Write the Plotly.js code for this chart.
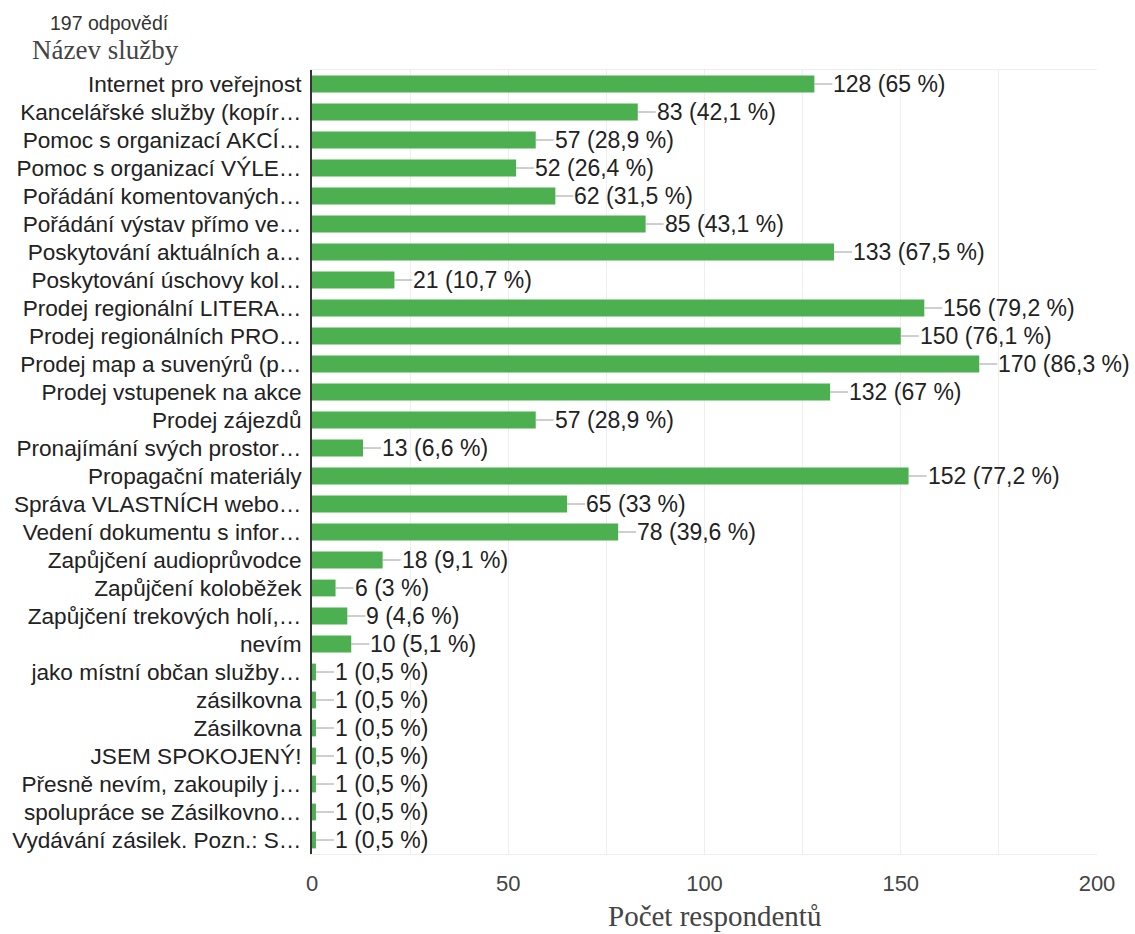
<!DOCTYPE html>
<html>
<head>
<meta charset="utf-8">
<script src="https://cdn.plot.ly/plotly-3.0.1.min.js"></script>
<style>html,body{margin:0;padding:0;background:#fff;}#chart{width:1135px;height:934px;}</style>
</head>
<body>
<div id="chart"></div>
<script>
const categories = [
  "Internet pro veřejnost",
  "Kancelářské služby (kopír…",
  "Pomoc s organizací AKCÍ…",
  "Pomoc s organizací VÝLE…",
  "Pořádání komentovaných…",
  "Pořádání výstav přímo ve…",
  "Poskytování aktuálních a…",
  "Poskytování úschovy kol…",
  "Prodej regionální LITERA…",
  "Prodej regionálních PRO…",
  "Prodej map a suvenýrů (p…",
  "Prodej vstupenek na akce",
  "Prodej zájezdů",
  "Pronajímání svých prostor…",
  "Propagační materiály",
  "Správa VLASTNÍCH webo…",
  "Vedení dokumentu s infor…",
  "Zapůjčení audioprůvodce",
  "Zapůjčení koloběžek",
  "Zapůjčení trekových holí,…",
  "nevím",
  "jako místní občan služby…",
  "zásilkovna",
  "Zásilkovna",
  "JSEM SPOKOJENÝ!",
  "Přesně nevím, zakoupily j…",
  "spolupráce se Zásilkovno…",
  "Vydávání zásilek. Pozn.: S…"
];
const counts = [128, 83, 57, 52, 62, 85, 133, 21, 156, 150, 170, 132, 57, 13, 152, 65, 78, 18, 6, 9, 10, 1, 1, 1, 1, 1, 1, 1];
const percents = ["65", "42,1", "28,9", "26,4", "31,5", "43,1", "67,5", "10,7", "79,2", "76,1", "86,3", "67", "28,9", "6,6", "77,2", "33", "39,6", "9,1", "3", "4,6", "5,1", "0,5", "0,5", "0,5", "0,5", "0,5", "0,5", "0,5"];
const xTickValues = [0, 50, 100, 150, 200];
const subtitleText = "197 odpovědí";
const yTitleText = "Název služby";
const xTitleText = "Počet respondentů";

const sans = 'Liberation Sans, Arial, sans-serif';
const serif = 'Liberation Serif, serif';

const annotations = categories.map((c, i) => ({
  x: counts[i], y: c, xref: 'x', yref: 'y',
  text: counts[i] + " (" + percents[i] + " %)",
  showarrow: true, arrowhead: 0, arrowwidth: 1, arrowcolor: '#9e9e9e',
  ax: 18, ay: 0, standoff: 0, startstandoff: 0,
  xanchor: 'left', yanchor: 'middle', borderpad: 0,
  font: {family: sans, size: 23, color: '#222'}
}));
annotations.push({
  xref: 'paper', yref: 'paper', x: -0.336, y: 1.0, yshift: 47,
  xanchor: 'left', yanchor: 'middle', showarrow: false,
  text: subtitleText,
  font: {family: sans, size: 19.5, color: '#333'}
});
annotations.push({
  xref: 'paper', yref: 'paper', x: -0.359, y: 1.0, yshift: 20,
  xanchor: 'left', yanchor: 'middle', showarrow: false,
  text: yTitleText,
  font: {family: serif, size: 27, color: '#444'}
});
annotations.push({
  xref: 'paper', yref: 'paper', x: 0.513, y: 0, yshift: -62,
  xanchor: 'center', yanchor: 'middle', showarrow: false,
  text: xTitleText,
  font: {family: serif, size: 29, color: '#444'}
});

const trace = {
  type: 'bar', orientation: 'h',
  x: counts, y: categories,
  marker: {color: '#4caf50'},
  hoverinfo: 'x+y'
};

const layout = {
  width: 1135, height: 934,
  margin: {l: 312, r: 38, t: 70, b: 80},
  paper_bgcolor: '#fff', plot_bgcolor: '#fff',
  bargap: 0.4,
  showlegend: false,
  font: {family: sans, color: '#222'},
  xaxis: {
    range: [0, 200],
    tickvals: xTickValues,
    ticktext: xTickValues.map(String),
    tickfont: {size: 22, color: '#444'},
    ticklabelstandoff: 10,
    showgrid: true, gridcolor: '#eeeeee', gridwidth: 1,
    minor: {dtick: 25, showgrid: true, gridcolor: '#eeeeee', gridwidth: 1},
    zeroline: false,
    showline: true, linecolor: '#eeeeee', linewidth: 1, mirror: 'all'
  },
  yaxis: {
    type: 'category',
    autorange: 'reversed',
    tickfont: {size: 22.6, color: '#222'},
    showgrid: false,
    showline: true, linecolor: '#333', linewidth: 2,
    ticks: '', ticklabelstandoff: 4
  },
  annotations: annotations
};

Plotly.newPlot('chart', [trace], layout, {displayModeBar: false});
</script>
</body>
</html>
